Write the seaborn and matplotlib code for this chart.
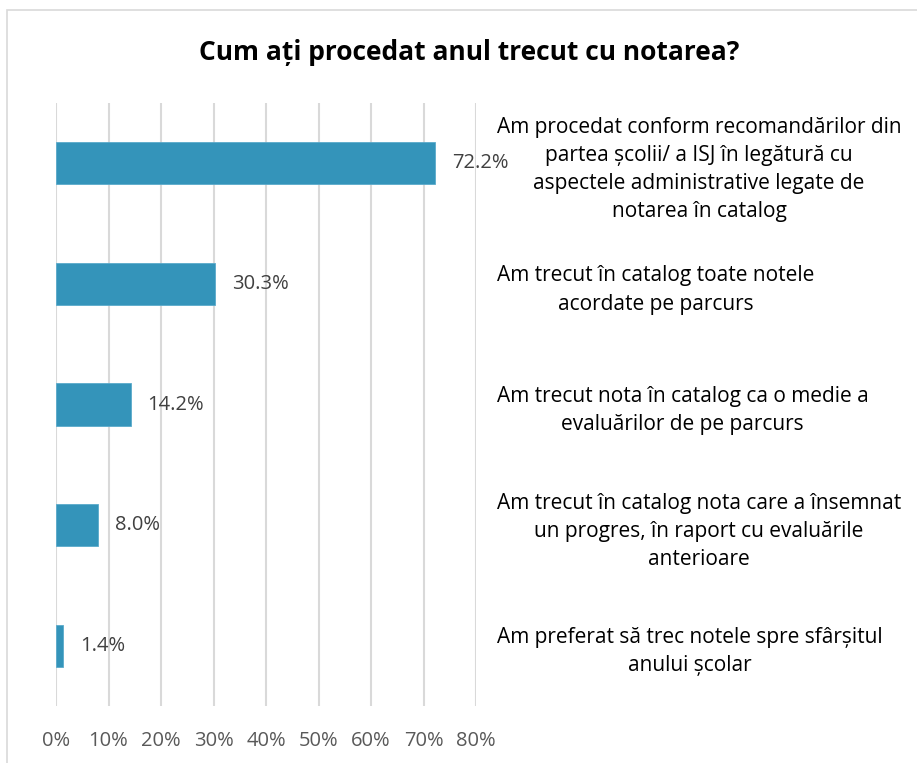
import matplotlib
matplotlib.use("Agg")
import matplotlib.pyplot as plt
import seaborn as sns
import pandas as pd
from matplotlib.ticker import PercentFormatter, MultipleLocator
from matplotlib.patches import Rectangle

categories = [
    "Am procedat conform recomandărilor din\npartea școlii/ a ISJ în legătură cu\naspectele administrative legate de\nnotarea în catalog",
    "Am trecut în catalog toate notele\nacordate pe parcurs",
    "Am trecut nota în catalog ca o medie a\nevaluărilor de pe parcurs",
    "Am trecut în catalog nota care a însemnat\nun progres, în raport cu evaluările\nanterioare",
    "Am preferat să trec notele spre sfârșitul\nanului școlar",
]
values = [0.722, 0.303, 0.142, 0.080, 0.014]
value_labels = ["72.2%", "30.3%", "14.2%", "8.0%", "1.4%"]
title = "Cum ați procedat anul trecut cu notarea?"

sns.set_theme(style="white")
plt.rcParams['font.family'] = ['Open Sans', 'DejaVu Sans']

df = pd.DataFrame({"cat": categories, "val": values})

fig = plt.figure(figsize=(9.17, 7.63), dpi=100)
ax = fig.add_axes([56/917, 1-706/763, (476-56)/917, (706-103)/763])

sns.barplot(data=df, x="val", y="cat", orient="h", color="#3494BA",
            width=0.35, ax=ax, saturation=1, edgecolor="#5AAACB", linewidth=0.6)

ax.set_xlim(0, 0.8)
ax.set_ylim(4.5, -0.5)
ax.xaxis.set_major_locator(MultipleLocator(0.1))
ax.xaxis.set_major_formatter(PercentFormatter(1.0, decimals=0))
ax.grid(axis="x", color="#D9D9D9", linewidth=1.5)
ax.grid(axis="y", visible=False)
ax.set_axisbelow(True)
for s in ax.spines.values():
    s.set_visible(False)
ax.set_xlabel("")
ax.set_ylabel("")
ax.yaxis.tick_right()
ax.tick_params(axis="y", length=0, pad=15, labelsize=15, labelcolor="#000000")
ax.tick_params(axis="x", length=0, pad=18, labelsize=14.5, labelcolor="#595959")
for lbl in ax.get_yticklabels():
    lbl.set_multialignment("center")
    lbl.set_linespacing(1.45)

for i, (v, t) in enumerate(zip(values, value_labels)):
    ax.annotate(t, xy=(v, i), xytext=(12, 0), textcoords="offset points",
                va="center", ha="left", fontsize=14.5, color="#404040")

fig.text(469/917, 1-53/763, title, ha="center", va="center", fontsize=19,
         fontweight="bold", color="#000000")

fig.patches.append(Rectangle((7/917, -0.02), 1.1, 1-10/763+0.02,
                             transform=fig.transFigure, fill=False,
                             edgecolor="#D9D9D9", linewidth=1.2))

fig.savefig("out.png", dpi=100)
